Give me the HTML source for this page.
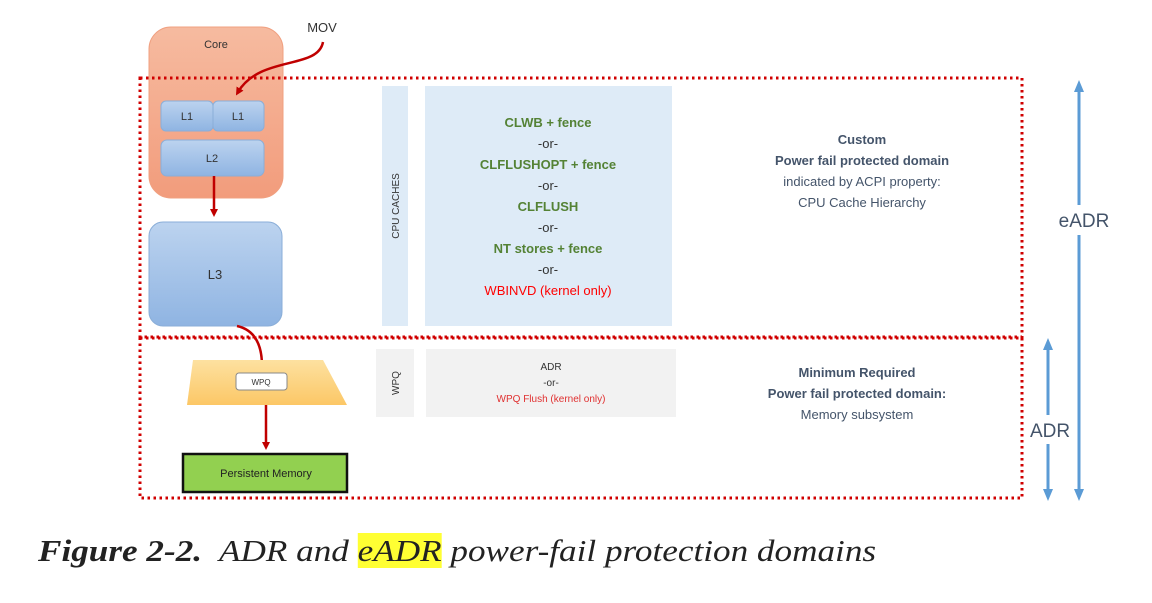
<!DOCTYPE html>
<html><head><meta charset="utf-8"><style>
html,body{margin:0;padding:0;background:#fff;width:1152px;height:603px;overflow:hidden;position:relative}
svg{display:block}
svg text{font-family:"Liberation Sans",sans-serif}
.cap{position:absolute;left:38px;top:533px;font-family:"Liberation Serif",serif;font-style:italic;font-size:31px;color:#222;white-space:nowrap;line-height:36px;transform:scaleX(1.134);transform-origin:0 0}
.cap b{font-weight:bold}
.hl{background:#ffff33}
</style></head><body>
<svg width="1152" height="603" viewBox="0 0 1152 603" xmlns="http://www.w3.org/2000/svg">
<defs>
<linearGradient id="cg" x1="0" y1="0" x2="0" y2="1"><stop offset="0" stop-color="#f6bba0"/><stop offset="1" stop-color="#f29c7c"/></linearGradient>
<linearGradient id="bg" x1="0" y1="0" x2="0" y2="1"><stop offset="0" stop-color="#bcd3ef"/><stop offset="1" stop-color="#8fb4e2"/></linearGradient>
<linearGradient id="yg" x1="0" y1="0" x2="0" y2="1"><stop offset="0" stop-color="#fde1a0"/><stop offset="1" stop-color="#fcc766"/></linearGradient>
<marker id="ar" markerWidth="8" markerHeight="8" refX="4" refY="4" orient="auto" markerUnits="userSpaceOnUse"><path d="M0,0 L8,4 L0,8 z" fill="#c00000"/></marker>
<marker id="ba" markerWidth="12" markerHeight="12" refX="6" refY="6" orient="auto-start-reverse" markerUnits="userSpaceOnUse"><path d="M0,1 L12,6 L0,11 z" fill="#5b9bd5"/></marker>
</defs>
<rect x="149" y="27" width="134" height="171" rx="22" fill="url(#cg)" stroke="#f0a080"/>
<text x="216" y="48" font-size="11" text-anchor="middle" fill="#333">Core</text>
<rect x="161" y="101" width="52" height="30" rx="5" fill="url(#bg)" stroke="#8aaed8"/>
<rect x="213" y="101" width="51" height="30" rx="5" fill="url(#bg)" stroke="#8aaed8"/>
<text x="187" y="120" font-size="11" text-anchor="middle" fill="#333">L1</text>
<text x="238" y="120" font-size="11" text-anchor="middle" fill="#333">L1</text>
<rect x="161" y="140" width="103" height="36" rx="6" fill="url(#bg)" stroke="#8aaed8"/>
<text x="212" y="162" font-size="11" text-anchor="middle" fill="#333">L2</text>
<rect x="149" y="222" width="133" height="104" rx="14" fill="url(#bg)" stroke="#8aaed8"/>
<text x="215" y="279" font-size="13" text-anchor="middle" fill="#333">L3</text>
<text x="322" y="32" font-size="13" text-anchor="middle" fill="#333">MOV</text>
<path d="M323,42 C318,70 260,55 238,92" fill="none" stroke="#c00000" stroke-width="2.5" marker-end="url(#ar)"/>
<line x1="214" y1="176" x2="214" y2="213" stroke="#c00000" stroke-width="2.5" marker-end="url(#ar)"/>
<path d="M237,326 C255,330 262,345 262,366" fill="none" stroke="#c00000" stroke-width="2.5" marker-end="url(#ar)"/>
<rect x="140" y="78" width="882" height="259" fill="none" stroke="#d00000" stroke-width="3" stroke-dasharray="2.5 3.5"/>
<rect x="140" y="338" width="882" height="160" fill="none" stroke="#d00000" stroke-width="3" stroke-dasharray="2.5 3.5"/>
<path d="M193,360 L323,360 L347,405 L187,405 Z" fill="url(#yg)"/>
<rect x="236" y="373" width="51" height="17" rx="3" fill="#fff" stroke="#888"/>
<text x="261" y="385" font-size="8" text-anchor="middle" fill="#333">WPQ</text>
<line x1="266" y1="405" x2="266" y2="446" stroke="#c00000" stroke-width="2.5" marker-end="url(#ar)"/>
<rect x="183" y="454" width="164" height="38" fill="#92d050" stroke="#111" stroke-width="2.5"/>
<text x="266" y="477" font-size="11" text-anchor="middle" fill="#222">Persistent Memory</text>
<rect x="382" y="86" width="26" height="240" fill="#deebf7"/>
<text transform="translate(399,206) rotate(-90)" font-size="10" text-anchor="middle" fill="#333">CPU CACHES</text>
<rect x="425" y="86" width="247" height="240" fill="#deebf7"/>
<g font-size="13" font-weight="bold" text-anchor="middle" fill="#548235">
<text x="548" y="127">CLWB + fence</text>
<text x="548" y="148" font-weight="normal" fill="#333">-or-</text>
<text x="548" y="169">CLFLUSHOPT + fence</text>
<text x="548" y="190" font-weight="normal" fill="#333">-or-</text>
<text x="548" y="211">CLFLUSH</text>
<text x="548" y="232" font-weight="normal" fill="#333">-or-</text>
<text x="548" y="253">NT stores + fence</text>
<text x="548" y="274" font-weight="normal" fill="#333">-or-</text>
<text x="548" y="295" font-weight="normal" fill="#ff0000">WBINVD (kernel only)</text>
</g>
<rect x="376" y="349" width="38" height="68" fill="#f2f2f2"/>
<text transform="translate(399,383) rotate(-90)" font-size="10" text-anchor="middle" fill="#333">WPQ</text>
<rect x="426" y="349" width="250" height="68" fill="#f2f2f2"/>
<g font-size="10" text-anchor="middle" fill="#333">
<text x="551" y="370">ADR</text>
<text x="551" y="386">-or-</text>
<text x="551" y="402" fill="#e03030">WPQ Flush (kernel only)</text>
</g>
<g font-size="13" text-anchor="middle" fill="#44546a">
<text x="862" y="144" font-weight="bold">Custom</text>
<text x="862" y="165" font-weight="bold">Power fail protected domain</text>
<text x="862" y="186">indicated by ACPI property:</text>
<text x="862" y="207">CPU Cache Hierarchy</text>
<text x="857" y="377" font-weight="bold">Minimum Required</text>
<text x="857" y="398" font-weight="bold">Power fail protected domain:</text>
<text x="857" y="419">Memory subsystem</text>
</g>
<line x1="1079" y1="86" x2="1079" y2="205" stroke="#5b9bd5" stroke-width="3" marker-start="url(#ba)"/>
<line x1="1079" y1="235" x2="1079" y2="495" stroke="#5b9bd5" stroke-width="3" marker-end="url(#ba)"/>
<text x="1084" y="227" font-size="19" text-anchor="middle" fill="#44546a">eADR</text>
<line x1="1048" y1="344" x2="1048" y2="415" stroke="#5b9bd5" stroke-width="3" marker-start="url(#ba)"/>
<line x1="1048" y1="444" x2="1048" y2="495" stroke="#5b9bd5" stroke-width="3" marker-end="url(#ba)"/>
<text x="1050" y="437" font-size="19" text-anchor="middle" fill="#44546a">ADR</text>
</svg>
<div class="cap"><b>Figure 2-2.</b>&nbsp; ADR and <span class="hl">eADR</span> power-fail protection domains</div>
</body></html>
